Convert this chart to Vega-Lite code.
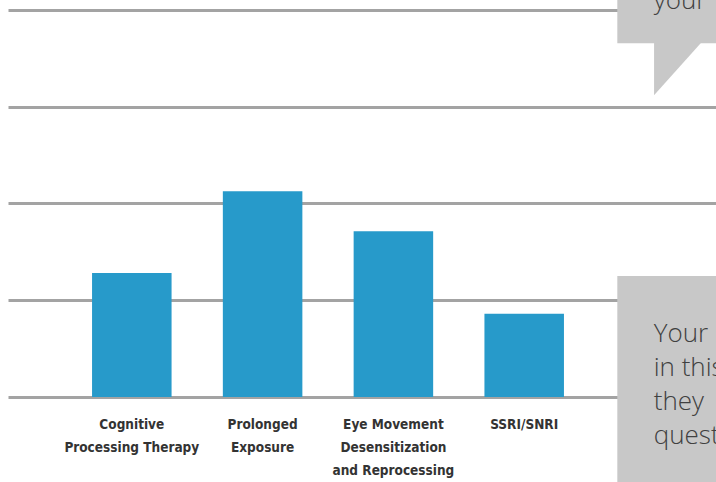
{
  "$schema": "https://vega.github.io/schema/vega-lite/v6.json",
  "autosize": "none",
  "width": 708,
  "height": 397,
  "padding": {"left": 8, "top": 0, "right": 0, "bottom": 85},
  "background": "white",
  "config": {"view": {"stroke": null}},
  "layer": [
    {
      "data": {"values": [
        {"treatment": "Cognitive\nProcessing Therapy", "value": 1.281},
        {"treatment": "Prolonged\nExposure", "value": 2.124},
        {"treatment": "Eye Movement\nDesensitization\nand Reprocessing", "value": 1.711},
        {"treatment": "SSRI/SNRI", "value": 0.861}
      ]},
      "mark": {"type": "bar", "color": "#279aca"},
      "encoding": {
        "x": {
          "field": "treatment", "type": "nominal", "sort": null,
          "scale": {"paddingInner": 0.392, "paddingOuter": 0.9025, "align": 0.356},
          "axis": {
            "title": null, "domain": false, "ticks": false, "labelAngle": 0,
            "labelExpr": "split(datum.label, '\\n')",
            "labelFont": "DejaVu Sans Condensed, Liberation Sans, sans-serif", "labelFontSize": 13.5, "labelFontWeight": "bold",
            "labelColor": "#333333", "labelLineHeight": 23, "labelPadding": 20, "labelLimit": 300
          }
        },
        "y": {
          "field": "value", "type": "quantitative",
          "scale": {"domain": [0, 4.1], "nice": false, "zero": true},
          "axis": {
            "values": [0, 1, 2, 3, 4], "grid": true, "gridColor": "#a3a3a3", "gridWidth": 3,
            "labels": false, "ticks": false, "domain": false, "title": null
          }
        }
      }
    },
    {
      "data": {"values": [{}]},
      "mark": {"type": "rect", "color": "#c8c8c8"},
      "encoding": {
        "x": {"datum": 0.8606, "type": "quantitative", "scale": {"domain": [0, 1], "nice": false, "zero": false}, "axis": null},
        "x2": {"datum": 1.02},
        "y": {"datum": 4.2},
        "y2": {"datum": 3.653}
      }
    },
    {
      "data": {"values": [{}]},
      "mark": {"type": "point", "shape": "M-1,-1.05L0.846,-1.05L-1,1Z", "filled": true, "color": "#c8c8c8", "opacity": 1, "strokeWidth": 0, "size": 2704},
      "encoding": {
        "x": {"datum": 0.9492, "type": "quantitative", "scale": {"domain": [0, 1], "nice": false, "zero": false}, "axis": null},
        "y": {"datum": 3.386}
      }
    },
    {
      "data": {"values": [{}]},
      "mark": {"type": "rect", "color": "#c8c8c8"},
      "encoding": {
        "x": {"datum": 0.8606, "type": "quantitative", "scale": {"domain": [0, 1], "nice": false, "zero": false}, "axis": null},
        "x2": {"datum": 1.02},
        "y": {"datum": 1.2496},
        "y2": {"datum": -0.9}
      }
    },
    {
      "data": {"values": [{"note": "your"}]},
      "mark": {"type": "text", "align": "left", "baseline": "alphabetic", "font": "Open Sans", "fontWeight": 300, "fontSize": 26, "color": "#404040"},
      "encoding": {
        "x": {"datum": 0.912, "type": "quantitative", "scale": {"domain": [0, 1], "nice": false, "zero": false}, "axis": null},
        "y": {"datum": 4.004},
        "text": {"field": "note"}
      }
    },
    {
      "data": {"values": [{"note": "Your\nin this\nthey\nquestions"}]},
      "mark": {"type": "text", "align": "left", "baseline": "alphabetic", "lineBreak": "\n", "lineHeight": 34, "font": "Open Sans", "fontWeight": 300, "fontSize": 26, "color": "#404040"},
      "encoding": {
        "x": {"datum": 0.912, "type": "quantitative", "scale": {"domain": [0, 1], "nice": false, "zero": false}, "axis": null},
        "y": {"datum": 0.571},
        "text": {"field": "note"}
      }
    }
  ],
  "resolve": {"scale": {"x": "independent"}}
}
